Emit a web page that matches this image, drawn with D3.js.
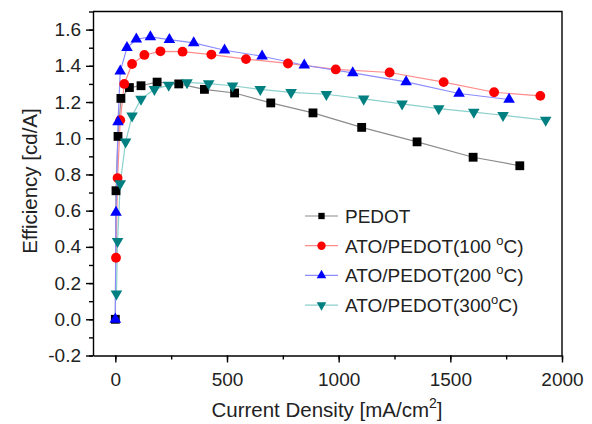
<!DOCTYPE html>
<html>
<head>
  <meta charset="utf-8">
  <script src="https://d3js.org/d3.v7.min.js"></script>
  <style>
    html, body {
      margin: 0px;
      padding: 0px;
      background: #fff;
      font-family: "Liberation Sans", Arial, Helvetica, sans-serif;
    }
    .axis text {
      font-size: 19px;
      font-family: "Liberation Sans", Arial, sans-serif;
      fill: #222;
    }
    .axis path, .axis line {
      stroke: #000;
      stroke-width: 1.4px;
    }
    .legendText {
      font-size: 19px;
      fill: #222;
    }
    .axisLabel {
      font-size: 20.5px;
      fill: #222;
    }
  </style>
</head>
<body>
  <div id="chart"></div>
  <script>

      const width = 592;
      const height = 424;

      // ---- data ----
      const pedotX = [0, 3, 12, 25, 63, 115, 187, 284, 399, 534, 696, 885, 1103, 1351, 1602, 1811];
      const pedotY = [0, 0.71, 1.01, 1.22, 1.28, 1.29, 1.31, 1.30, 1.27, 1.25, 1.195, 1.14, 1.06, 0.98, 0.895, 0.848];

      const ato100X = [3, 10, 22, 40, 75, 130, 202, 301, 430, 585, 773, 987, 1228, 1470, 1696, 1903];
      const ato100Y = [0.34, 0.78, 1.10, 1.30, 1.41, 1.46, 1.48, 1.478, 1.462, 1.437, 1.413, 1.38, 1.363, 1.31, 1.254, 1.234];

      const ato200X = [0, 3, 12, 22, 52, 94, 157, 242, 351, 489, 657, 846, 1063, 1302, 1539, 1763];
      const ato200Y = [0, 0.59, 1.09, 1.37, 1.50, 1.547, 1.56, 1.545, 1.527, 1.486, 1.453, 1.403, 1.361, 1.311, 1.247, 1.214];

      const ato300X = [5, 10, 22, 46, 75, 115, 175, 239, 321, 418, 525, 649, 787, 945, 1112, 1284, 1448, 1605, 1736, 1927];
      const ato300Y = [0.14, 0.43, 0.75, 0.98, 1.124, 1.216, 1.27, 1.293, 1.308, 1.302, 1.29, 1.27, 1.253, 1.243, 1.217, 1.19, 1.164, 1.144, 1.127, 1.10];

      const seriesNames = ["PEDOT", "ATO/PEDOT(100 ", "ATO/PEDOT(200 ", "ATO/PEDOT(300"];
      const xTicks = [0, 500, 1000, 1500, 2000];
      const yTicks = [-0.2, 0, 0.2, 0.4, 0.6, 0.8, 1.0, 1.2, 1.4, 1.6];

      const margin = {top: 11.5, left: 93, right: 30, bottom: 68.5};

      const svg = d3.select("#chart")
        .append("svg")
        .attr("width", width)
        .attr("height", height);

      const xScale = d3.scaleLinear()
        .domain([-100, 2000])
        .range([margin.left, width - margin.right]);

      const yScale = d3.scaleLinear()
        .domain([-0.2, 1.7])
        .range([height - margin.bottom, margin.top]);

      function zip(xs, ys) {
        return xs.map(function(x, i) { return {x: x, y: ys[i]}; });
      }

      const series = [
        {name: seriesNames[0], data: zip(pedotX, pedotY), line: "#8c8c8c", fill: "#000000", symbol: d3.symbolSquare, size: 78, lsize: 40, rot: 0},
        {name: seriesNames[1], data: zip(ato100X, ato100Y), line: "#ff8c8c", fill: "#ff0000", symbol: d3.symbolCircle, size: 76, lsize: 55, rot: 0},
        {name: seriesNames[2], data: zip(ato200X, ato200Y), line: "#8c8cff", fill: "#0000ff", symbol: d3.symbolTriangle, size: 58, lsize: 40, rot: 0},
        {name: seriesNames[3], data: zip(ato300X, ato300Y), line: "#8cd0cc", fill: "#008080", symbol: d3.symbolTriangle, size: 58, lsize: 40, rot: 180}
      ];

      // minor ticks
      svg.append("g")
        .attr("class", "axis")
        .attr("transform", `translate(0,${height - margin.bottom})`)
        .call(d3.axisBottom(xScale).tickValues(d3.range(0, 2001, 250)).tickSize(4).tickFormat(""))
        .call(g => g.select(".domain").remove());

      svg.append("g")
        .attr("class", "axis")
        .attr("transform", `translate(${margin.left},0)`)
        .call(d3.axisLeft(yScale).tickValues(d3.range(-0.2, 1.75, 0.1)).tickSize(4).tickFormat(""))
        .call(g => g.select(".domain").remove());

      // major ticks
      svg.append("g")
        .attr("class", "axis")
        .attr("transform", `translate(0,${height - margin.bottom})`)
        .call(d3.axisBottom(xScale).tickValues(xTicks).tickSize(7).tickPadding(5).tickSizeOuter(0).tickFormat(d3.format("d")))
        .call(g => g.selectAll("text").attr("dy", "0.95em"));

      svg.append("g")
        .attr("class", "axis")
        .attr("transform", `translate(${margin.left},0)`)
        .call(d3.axisLeft(yScale).tickValues(yTicks).tickSize(7).tickPadding(5).tickSizeOuter(0)
          .tickFormat(d => d3.format(".1f")(d).replace("\u2212", "-")));

      // frame (top and right)
      svg.append("path")
        .attr("d", `M${margin.left},${margin.top}H${width - margin.right}V${height - margin.bottom}`)
        .attr("fill", "none")
        .attr("stroke", "#000")
        .attr("stroke-width", 1.4);

      // lines and markers
      const line = d3.line()
        .x(function(d) { return xScale(d.x); })
        .y(function(d) { return yScale(d.y); });

      series.forEach(function(s) {
        svg.append("path")
          .datum(s.data)
          .attr("d", line)
          .attr("fill", "none")
          .attr("stroke", s.line)
          .attr("stroke-width", 1.2);
      });

      series.forEach(function(s) {
        svg.append("g").selectAll("path")
          .data(s.data)
          .join("path")
            .attr("d", d3.symbol().type(s.symbol).size(s.size))
            .attr("transform", d => `translate(${xScale(d.x)},${yScale(d.y)}) rotate(${s.rot})`)
            .attr("fill", s.fill);
      });

      // legend
      const legend = svg.append("g").attr("transform", "translate(305,216)");
      series.forEach(function(s, i) {
        const row = legend.append("g").attr("transform", `translate(0,${i * 29.7})`);
        row.append("line")
          .attr("x1", 0).attr("x2", 33).attr("y1", 0).attr("y2", 0)
          .attr("stroke", s.line).attr("stroke-width", 1.2);
        row.append("path")
          .attr("d", d3.symbol().type(s.symbol).size(s.lsize))
          .attr("transform", `translate(16.5,0) rotate(${s.rot})`)
          .attr("fill", s.fill);
        const t = row.append("text")
          .attr("class", "legendText")
          .attr("x", 40)
          .attr("y", 6.8)
          .text(s.name);
        if (i > 0) {
          t.append("tspan").attr("dy", -8).attr("font-size", "13px").text("o");
          t.append("tspan").attr("dy", 8).text("C)");
        }
      });

      // axis labels
      const xl = svg.append("text")
        .attr("class", "axisLabel")
        .attr("x", 327)
        .attr("y", 417)
        .attr("text-anchor", "middle")
        .text("Current Density [mA/cm");
      xl.append("tspan").attr("dy", -9).attr("font-size", "14px").text("2");
      xl.append("tspan").attr("dy", 9).text("]");

      svg.append("text")
        .attr("class", "axisLabel")
        .attr("x", -181)
        .attr("y", 37)
        .attr("text-anchor", "middle")
        .attr("transform", "rotate(-90)")
        .text("Efficiency [cd/A]");

  </script>
</body>
</html>
